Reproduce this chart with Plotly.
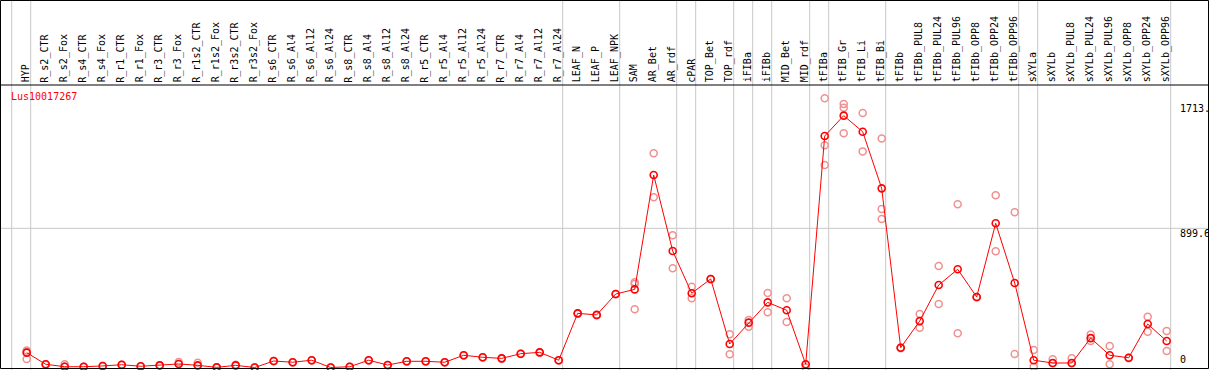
import plotly.graph_objects as go

gene = "Lus10017267"

categories = ["HYP", "R_s2_CTR", "R_s2_Fox", "R_s4_CTR", "R_s4_Fox", "R_r1_CTR", "R_r1_Fox",
              "R_r3_CTR", "R_r3_Fox", "R_r1s2_CTR", "R_r1s2_Fox", "R_r3s2_CTR", "R_r3s2_Fox",
              "R_s6_CTR", "R_s6_Al4", "R_s6_Al12", "R_s6_Al24", "R_s8_CTR", "R_s8_Al4", "R_s8_Al12",
              "R_s8_Al24", "R_r5_CTR", "R_r5_Al4", "R_r5_Al12", "R_r5_Al24", "R_r7_CTR", "R_r7_Al4",
              "R_r7_Al12", "R_r7_Al24", "LEAF_N", "LEAF_P", "LEAF_NPK", "SAM", "AR_Bet", "AR_rdf",
              "cPAR", "TOP_Bet", "TOP_rdf", "iFIBa", "iFIBb", "MID_Bet", "MID_rdf", "tFIBa",
              "tFIB_Gr", "tFIB_Li", "tFIB_Bi", "tFIBb", "tFIBb_PUL8", "tFIBb_PUL24", "tFIBb_PUL96",
              "tFIBb_OPP8", "tFIBb_OPP24", "tFIBb_OPP96", "sXYLa", "sXYLb", "sXYLb_PUL8",
              "sXYLb_PUL24", "sXYLb_PUL96", "sXYLb_OPP8", "sXYLb_OPP24", "sXYLb_OPP96"]

mean_values = [96, 21, 5, 5, 10, 18, 8, 14, 23, 14, 1, 14, 0,
               42, 34, 47, 0, 5, 47, 16, 40, 40, 34, 79, 66, 59, 89, 98, 47,
               350, 340, 475, 505, 1244, 753, 480, 572, 152, 290, 421, 370, 21,
               1496, 1628, 1524, 1158, 128, 300, 533, 635, 456, 932, 546,
               47, 29, 29, 190, 79, 63, 281, 171]

replicate_values = [
    [110, 55, 100], [21, 18], [21, 6], [5, 4], [10, 8], [18, 16], [8, 6], [14, 12], [35, 22],
    [31, 12], [1, 2], [18, 12], [0, 1], [42, 40], [34, 32], [47, 45], [0, 1], [5, 4], [47, 45],
    [16, 15], [40, 38], [40, 38], [34, 32], [79, 77], [66, 64], [59, 57], [89, 87], [98, 96],
    [47, 45], [350, 348], [340, 338], [475, 473], [551, 376, 540], [1385, 1100], [855, 641],
    [522, 447], [572, 570], [215, 85], [307, 264], [481, 357], [447, 294], [0, 20],
    [1740, 1436, 1309], [1703, 1679, 1514], [1645, 1397], [1481, 1024, 960], [125, 130],
    [346, 257], [656, 410], [1055, 221], [456, 454], [1113, 751], [1003, 87], [113, 5],
    [53, 27], [59, 28], [214, 171], [139, 21], [63, 60], [328, 231], [236, 107]]

# indices of the last category in each group (separator lines follow them)
group_ends = [-1, 0, 28, 31, 34, 35, 37, 38, 39, 41, 42, 45, 52, 53, 60]

tick_values = [1713.0, 899.6, 0]
tick_labels = ["1713.", "899.6", "0"]
grid_values = [899.6]

W, H = 1209, 370
MONO = "DejaVu Sans Mono"
GRID = "#c8c8c8"

xs = list(range(len(categories)))
rep_x, rep_y = [], []
for i, reps in enumerate(replicate_values):
    for v in reps:
        rep_x.append(i)
        rep_y.append(v)

fig = go.Figure()
fig.add_trace(go.Scatter(
    x=rep_x, y=rep_y, mode="markers",
    marker=dict(symbol="circle-open", size=7, color="#f09090", line=dict(width=1.5, color="#f09090")),
    hoverinfo="skip", showlegend=False, cliponaxis=False))
fig.add_trace(go.Scatter(
    x=xs, y=mean_values, mode="lines+markers",
    line=dict(color="#ff0000", width=1),
    marker=dict(symbol="circle-open", size=7, color="#ff0000", line=dict(width=1.6, color="#ff0000")),
    showlegend=False, cliponaxis=False))

shapes = []
for e in group_ends:
    shapes.append(dict(type="line", xref="x", yref="paper", x0=e + 4 / 19, x1=e + 4 / 19,
                       y0=0, y1=1, line=dict(color=GRID, width=1), layer="below"))
for g in grid_values:
    shapes.append(dict(type="line", xref="paper", yref="y", x0=0, x1=1, y0=g, y1=g,
                       line=dict(color=GRID, width=1), layer="below"))
shapes.append(dict(type="rect", xref="paper", yref="paper", x0=0.5 / W, x1=(W - 0.5) / W,
                   y0=1.5 / H, y1=(H - 0.5) / H, line=dict(color="black", width=1)))
shapes.append(dict(type="line", xref="paper", yref="paper", x0=0, x1=1,
                   y0=(H - 85) / H, y1=(H - 85) / H, line=dict(color="black", width=1)))

annotations = []
for i, c in enumerate(categories):
    annotations.append(dict(x=i, xref="x", y=(H - 84.5) / H, yref="paper", text=c,
                            textangle=-90, showarrow=False, xanchor="center", yanchor="bottom",
                            xshift=-1, font=dict(family=MONO, size=10, color="black")))
for v, t in zip(tick_values, tick_labels):
    if v == 0:
        annotations.append(dict(x=1178 / W, xref="paper", y=v, yref="y", text=t, showarrow=False,
                                xanchor="left", yanchor="bottom", yshift=1,
                                font=dict(family=MONO, size=10, color="black")))
    else:
        annotations.append(dict(x=1178 / W, xref="paper", y=v, yref="y", text=t, showarrow=False,
                                xanchor="left", yanchor="top", yshift=2,
                                font=dict(family=MONO, size=10, color="black")))
annotations.append(dict(x=9 / W, xref="paper", y=(H - 89) / H, yref="paper", text=gene,
                        showarrow=False, xanchor="left", yanchor="top",
                        font=dict(family=MONO, size=10, color="#ff0000")))

fig.update_layout(
    width=W, height=H, margin=dict(l=0, r=0, t=0, b=0),
    paper_bgcolor="white", plot_bgcolor="white",
    xaxis=dict(range=[-26.7 / 19, (W - 26.7) / 19], visible=False, fixedrange=True),
    yaxis=dict(range=[-2.5 / 0.1547, 367.5 / 0.1547], visible=False, fixedrange=True),
    shapes=shapes, annotations=annotations,
)

fig.write_html("out.html", config={"displayModeBar": False},
               post_script="document.body.style.margin='0';document.body.style.overflow='hidden';")
